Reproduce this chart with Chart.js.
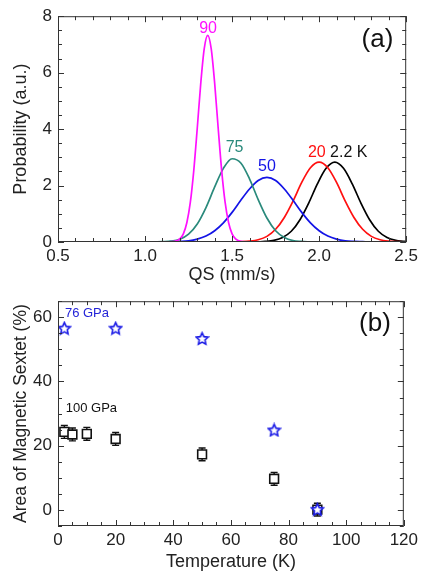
<!DOCTYPE html>
<html>
<head>
<meta charset="utf-8">
<script src="https://cdn.jsdelivr.net/npm/chart.js@4.4.1/dist/chart.umd.min.js"></script>
<style>
  body { margin: 0; background: #fff; }
  #wrap { position: relative; width: 422px; height: 571px; }
  #topBox { position: absolute; left: 0; top: 0; width: 422px; height: 285px; }
  #botBox { position: absolute; left: 0; top: 285px; width: 422px; height: 286px; }
</style>
</head>
<body>
<div id="wrap">
  <div id="topBox"><canvas id="qsChart"></canvas></div>
  <div id="botBox"><canvas id="sextetChart"></canvas></div>
</div>
<script>
// (a) QS distributions at each temperature
const qs90 = [0.5, 1.12, 1.16, 1.18, 1.20, 1.22, 1.24, 1.26, 1.28, 1.30, 1.32, 1.34, 1.36, 1.38, 1.40, 1.42, 1.44, 1.46, 1.48, 1.50, 1.52, 1.54, 1.56, 1.60, 2.5];
const p90  = [0, 0, 0.01, 0.04, 0.11, 0.29, 0.68, 1.40, 2.54, 4.04, 5.62, 6.85, 7.32, 6.85, 5.62, 4.04, 2.54, 1.40, 0.68, 0.29, 0.11, 0.04, 0.01, 0, 0];

const qs75 = [0.5, 1.00, 1.05, 1.10, 1.15, 1.20, 1.25, 1.30, 1.35, 1.40, 1.45, 1.50, 1.55, 1.60, 1.65, 1.70, 1.75, 1.80, 1.85, 1.90, 1.95, 2.00, 2.5];
const p75  = [0, 0, 0.00, 0.01, 0.03, 0.10, 0.28, 0.64, 1.22, 1.95, 2.61, 2.95, 2.80, 2.24, 1.50, 0.85, 0.40, 0.16, 0.05, 0.02, 0.00, 0, 0];

const qs50 = [0.5, 1.05, 1.10, 1.15, 1.20, 1.25, 1.30, 1.35, 1.40, 1.45, 1.50, 1.55, 1.60, 1.65, 1.70, 1.75, 1.80, 1.85, 1.90, 1.95, 2.00, 2.05, 2.10, 2.15, 2.20, 2.25, 2.30, 2.35, 2.5];
const p50  = [0, 0, 0.00, 0.01, 0.02, 0.04, 0.10, 0.21, 0.40, 0.68, 1.05, 1.48, 1.88, 2.18, 2.29, 2.18, 1.88, 1.48, 1.05, 0.68, 0.40, 0.21, 0.10, 0.04, 0.02, 0.01, 0.00, 0, 0];

const qs20 = [0.5, 1.50, 1.55, 1.60, 1.65, 1.70, 1.75, 1.80, 1.85, 1.90, 1.95, 2.00, 2.05, 2.10, 2.15, 2.20, 2.25, 2.30, 2.35, 2.40, 2.45, 2.50];
const p20  = [0, 0, 0.01, 0.03, 0.08, 0.20, 0.45, 0.87, 1.45, 2.11, 2.63, 2.83, 2.63, 2.11, 1.45, 0.87, 0.45, 0.20, 0.08, 0.03, 0.01, 0.00];

const qs2 = [0.5, 1.59, 1.64, 1.69, 1.74, 1.79, 1.84, 1.89, 1.94, 1.99, 2.04, 2.09, 2.14, 2.19, 2.24, 2.29, 2.34, 2.39, 2.44, 2.49, 2.50];
const p2  = [0, 0, 0.00, 0.02, 0.06, 0.16, 0.38, 0.79, 1.38, 2.06, 2.61, 2.83, 2.61, 2.06, 1.38, 0.79, 0.38, 0.16, 0.06, 0.02, 0.01];

const qsTicks = [0.5, 1.0, 1.5, 2.0, 2.5];
const probTicks = [0, 2, 4, 6, 8];

// (b) magnetic sextet area vs temperature
const temps100 = [2.2, 5, 10, 20, 50, 75, 90];
const area100  = [24.3, 23.5, 23.7, 22.1, 17.3, 9.7, 0.1];
const err100   = [2.0, 2.0, 2.0, 2.0, 2.0, 2.0, 2.0];

const temps76 = [2.2, 20, 50, 75, 90];
const area76  = [56.6, 56.6, 53.4, 24.9, 0.2];

const tempTicks = [0, 20, 40, 60, 80, 100, 120];
const areaTicks = [0, 20, 40, 60];

const TXT = '#222';
const FONT = 'Liberation Sans, Arial, Helvetica, sans-serif';

function pts(xs, ys) {
  return xs.map((v, i) => ({ x: v, y: ys[i] }));
}

function range(from, to, step) {
  const out = [];
  for (let v = from; v <= to + 1e-9; v += step) out.push(Math.round(v * 1000) / 1000);
  return out;
}

// box frame with inward ticks on all four sides
function frameTicks(xMajor, xMinor, yMajor, yMinor) {
  return {
    id: 'frameTicks',
    afterDraw(chart) {
      const { ctx, chartArea: a } = chart;
      const x = chart.scales.x, y = chart.scales.y;
      ctx.save();
      ctx.strokeStyle = '#333';
      ctx.lineWidth = 1;
      ctx.strokeRect(a.left + 0.5, a.top + 0.5, a.right - a.left - 1, a.bottom - a.top - 1);
      const draw = (vals, len, horiz) => {
        ctx.beginPath();
        vals.forEach(v => {
          if (horiz) {
            const px = Math.round(x.getPixelForValue(v)) + 0.5;
            ctx.moveTo(px, a.bottom); ctx.lineTo(px, a.bottom - len);
            ctx.moveTo(px, a.top); ctx.lineTo(px, a.top + len);
          } else {
            const py = Math.round(y.getPixelForValue(v)) + 0.5;
            ctx.moveTo(a.left, py); ctx.lineTo(a.left + len, py);
            ctx.moveTo(a.right, py); ctx.lineTo(a.right - len, py);
          }
        });
        ctx.stroke();
      };
      draw(xMajor, 6, true);
      draw(xMinor, 4, true);
      draw(yMajor, 6, false);
      draw(yMinor, 4, false);
      ctx.restore();
    }
  };
}

// text labels placed in data units
function dataLabels(items) {
  return {
    id: 'dataLabels',
    afterDatasetsDraw(chart) {
      const { ctx } = chart;
      const x = chart.scales.x, y = chart.scales.y;
      ctx.save();
      ctx.textBaseline = 'middle';
      items.forEach(it => {
        ctx.font = it.size + 'px ' + FONT;
        ctx.fillStyle = it.color;
        ctx.textAlign = it.align || 'center';
        ctx.fillText(it.text, x.getPixelForValue(it.x), y.getPixelForValue(it.y));
      });
      ctx.restore();
    }
  };
}

// vertical error bars with caps, drawn behind the squares
function errorBars(xs, ys, err) {
  return {
    id: 'errorBars',
    beforeDatasetsDraw(chart) {
      const { ctx } = chart;
      const x = chart.scales.x, y = chart.scales.y;
      ctx.save();
      ctx.strokeStyle = '#111';
      ctx.lineWidth = 1.4;
      xs.forEach((t, i) => {
        const px = x.getPixelForValue(t);
        const hi = y.getPixelForValue(ys[i] + err[i]);
        const lo = y.getPixelForValue(ys[i] - err[i]);
        ctx.beginPath();
        ctx.moveTo(px, hi); ctx.lineTo(px, lo);
        ctx.moveTo(px - 3.5, hi); ctx.lineTo(px + 3.5, hi);
        ctx.moveTo(px - 3.5, lo); ctx.lineTo(px + 3.5, lo);
        ctx.stroke();
      });
      ctx.restore();
    }
  };
}

function starImage(size, color) {
  const c = document.createElement('canvas');
  c.width = size; c.height = size;
  const g = c.getContext('2d');
  const cx = size / 2, cy = size / 2 + 0.6;
  const R = size / 2 - 1.2, r = R * 0.48;
  g.beginPath();
  for (let k = 0; k < 10; k++) {
    const ang = -Math.PI / 2 + k * Math.PI / 5;
    const rad = k % 2 === 0 ? R : r;
    const px = cx + rad * Math.cos(ang), py = cy + rad * Math.sin(ang);
    k === 0 ? g.moveTo(px, py) : g.lineTo(px, py);
  }
  g.closePath();
  g.fillStyle = '#fff';
  g.fill();
  g.strokeStyle = color;
  g.lineWidth = 1.6;
  g.stroke();
  return c;
}

function lineSet(xs, ys, color) {
  return {
    data: pts(xs, ys),
    borderColor: color,
    borderWidth: 1.7,
    pointRadius: 0,
    showLine: true,
    fill: false,
    cubicInterpolationMode: 'monotone'
  };
}

function fixedTicks(vals) {
  return scale => { scale.ticks = vals.map(v => ({ value: v })); };
}

const tickFont = { family: FONT, size: 17 };
const titleFont = { family: FONT, size: 18, lineHeight: 1 };

new Chart(document.getElementById('qsChart'), {
  type: 'scatter',
  data: {
    datasets: [
      lineSet(qs90, p90, '#ff10ff'),
      lineSet(qs75, p75, '#2a8a7c'),
      lineSet(qs50, p50, '#1414e6'),
      lineSet(qs20, p20, '#ff1010'),
      lineSet(qs2, p2, '#000000')
    ]
  },
  options: {
    responsive: true,
    maintainAspectRatio: false,
    animation: false,
    layout: { padding: { top: 14, right: 13, bottom: 0, left: 0 } },
    plugins: { legend: { display: false }, tooltip: { enabled: false } },
    scales: {
      x: {
        type: 'linear', min: 0.5, max: 2.5,
        afterBuildTicks: fixedTicks(qsTicks),
        afterFit: s => { s.height = 43; },
        grid: { display: false, drawTicks: false },
        border: { display: false },
        ticks: { font: tickFont, color: TXT, padding: 4, maxRotation: 0, callback: v => v.toFixed(1) },
        title: { display: true, text: 'QS (mm/s)', font: titleFont, color: TXT, padding: { top: 0, bottom: 1 } }
      },
      y: {
        type: 'linear', min: 0, max: 8,
        afterBuildTicks: fixedTicks(probTicks),
        afterFit: s => { s.width = 58; },
        grid: { display: false, drawTicks: false },
        border: { display: false },
        ticks: { font: tickFont, color: TXT, padding: 6 },
        title: { display: true, text: 'Probability (a.u.)', font: titleFont, color: TXT, padding: { top: 12, bottom: 0 } }
      }
    }
  },
  plugins: [
    frameTicks(qsTicks, range(0.6, 2.4, 0.1), probTicks, range(0.5, 7.5, 0.5)),
    dataLabels([
      { text: '90', x: 1.362, y: 7.55, size: 16, color: '#ff10ff' },
      { text: '75', x: 1.514, y: 3.33, size: 16, color: '#2a8a7c' },
      { text: '50', x: 1.70, y: 2.67, size: 16, color: '#1414e6' },
      { text: '20', x: 1.987, y: 3.16, size: 16, color: '#ff1010' },
      { text: '2.2 K', x: 2.17, y: 3.16, size: 16, color: '#111' },
      { text: '(a)', x: 2.335, y: 7.15, size: 26, color: '#111' }
    ])
  ]
});

new Chart(document.getElementById('sextetChart'), {
  type: 'scatter',
  data: {
    datasets: [
      {
        data: pts(temps76, area76),
        pointStyle: starImage(15, '#1a1ae6'),
        pointRadius: 7,
        showLine: false
      },
      {
        data: pts(temps100, area100),
        pointStyle: 'rect',
        pointRadius: 6.2,
        pointBorderWidth: 1.6,
        pointBorderColor: '#111',
        pointBackgroundColor: '#fff',
        showLine: false
      }
    ]
  },
  options: {
    responsive: true,
    maintainAspectRatio: false,
    animation: false,
    layout: { padding: { top: 16, right: 13, bottom: 0, left: 0 } },
    plugins: { legend: { display: false }, tooltip: { enabled: false } },
    scales: {
      x: {
        type: 'linear', min: 0, max: 120,
        afterBuildTicks: fixedTicks(tempTicks),
        afterFit: s => { s.height = 45; },
        grid: { display: false, drawTicks: false },
        border: { display: false },
        ticks: { font: tickFont, color: TXT, padding: 4, maxRotation: 0 },
        title: { display: true, text: 'Temperature (K)', font: titleFont, color: TXT, padding: { top: 0, bottom: 0 } }
      },
      y: {
        type: 'linear', min: -5, max: 65,
        afterBuildTicks: fixedTicks(areaTicks),
        afterFit: s => { s.width = 58; },
        grid: { display: false, drawTicks: false },
        border: { display: false },
        ticks: { font: tickFont, color: TXT, padding: 6 },
        title: { display: true, text: 'Area of Magnetic Sextet (%)', font: { family: FONT, size: 17.5, lineHeight: 1 }, color: TXT, padding: { top: 12, bottom: 0 } }
      }
    }
  },
  plugins: [
    errorBars(temps100, area100, err100),
    frameTicks(tempTicks, range(5, 115, 5).filter(v => v % 20 !== 0), areaTicks, range(-5, 65, 5).filter(v => v % 20 !== 0)),
    dataLabels([
      { text: '76 GPa', x: 2.4, y: 61.3, size: 13, color: '#2424d8', align: 'left' },
      { text: '100 GPa', x: 2.7, y: 31.7, size: 13, color: '#111', align: 'left' },
      { text: '(b)', x: 110, y: 57.8, size: 26, color: '#111' }
    ])
  ]
});
</script>
</body>
</html>
